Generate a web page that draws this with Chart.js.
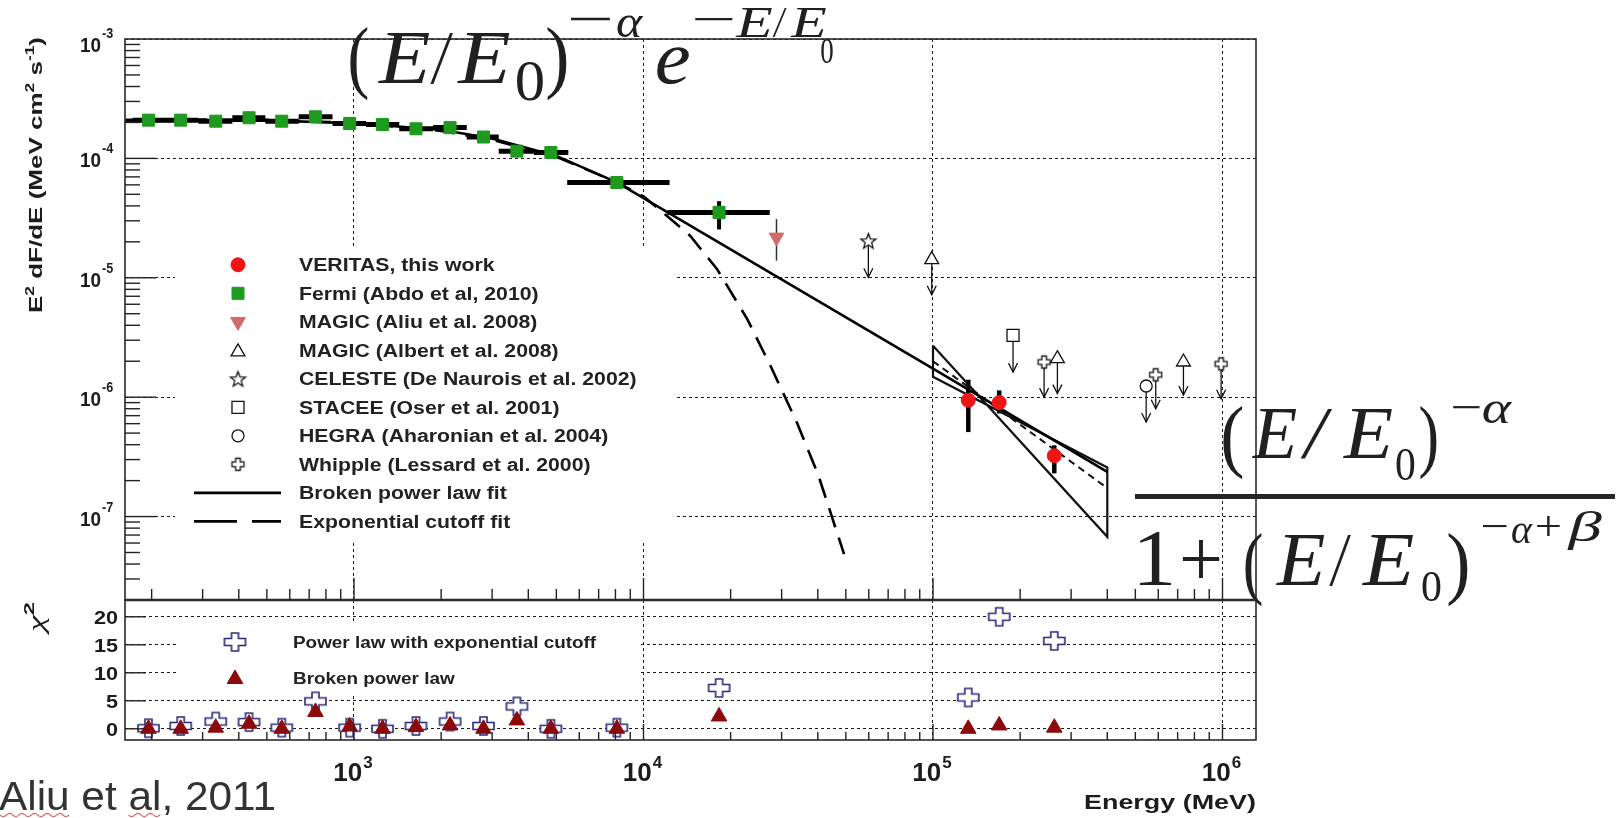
<!DOCTYPE html>
<html lang="en">
<head>
<meta charset="utf-8">
<title>Crab pulsar spectral energy distribution</title>
<script src="https://cdn.jsdelivr.net/npm/chart.js@4.4.1/dist/chart.umd.min.js"></script>
<style>
  html, body { margin: 0; padding: 0; background: #ffffff; }
  #stage { position: relative; width: 1624px; height: 818px; overflow: hidden; background: #ffffff; }
  #stage canvas { position: absolute; left: 0; top: 0; }
</style>
</head>
<body>
<div id="stage">
  <canvas id="sed" width="1624" height="818"></canvas>
  <canvas id="chi" width="1624" height="818"></canvas>
</div>
<script>
// ---------- axis ranges ----------
const E_MIN = 161.8, E_MAX = 1.3054e6;
const FLUX_MIN = 2e-8, FLUX_MAX = 1e-3;
const CHI2_MIN = -2, CHI2_MAX = 23;

// ---------- tick labels ----------
const energyDecades = [3, 4, 5, 6];
const fluxDecades = [-3, -4, -5, -6, -7];
const chi2Ticks = [0, 5, 10, 15, 20];

// ---------- Fermi-LAT points (MeV, MeV cm^-2 s^-1) ----------
const fermiE   = [195, 252, 333, 434, 563, 736, 966, 1255, 1637, 2147, 2800, 3653, 4787, 8090, 18240];
const fermiF   = [2.09e-4, 2.09e-4, 2.05e-4, 2.19e-4, 2.05e-4, 2.23e-4, 1.96e-4, 1.92e-4, 1.77e-4, 1.81e-4, 1.51e-4, 1.15e-4, 1.12e-4, 6.28e-5, 3.52e-5];
const fermiElo = [172, 222, 290, 380, 494, 644, 843, 1101, 1433, 1875, 2452, 3162, 4182, 5450, 12100];
const fermiEhi = [222, 290, 380, 494, 644, 843, 1101, 1433, 1875, 2452, 3162, 4182, 5500, 12300, 27300];
const fermiFlo = [2.01e-4, 2.01e-4, 1.97e-4, 2.10e-4, 1.97e-4, 2.14e-4, 1.88e-4, 1.84e-4, 1.70e-4, 1.74e-4, 1.45e-4, 1.10e-4, 1.075e-4, 6.0e-5, 2.54e-5];
const fermiFhi = [2.17e-4, 2.17e-4, 2.13e-4, 2.28e-4, 2.13e-4, 2.32e-4, 2.04e-4, 2.0e-4, 1.84e-4, 1.88e-4, 1.57e-4, 1.20e-4, 1.165e-4, 6.55e-5, 4.38e-5];

// ---------- VERITAS points ----------
const veritasE   = [1.324e5, 1.693e5, 2.624e5];
const veritasF   = [9.42e-7, 9.01e-7, 3.23e-7];
const veritasFlo = [5.1e-7, 7.3e-7, 2.30e-7];
const veritasFhi = [1.4e-6, 1.14e-6, 3.95e-7];

// ---------- MAGIC (Aliu et al. 2008) ----------
const magicAliuE = [2.88e4];
const magicAliuF = [2.18e-5];
const magicAliuFlo = [1.39e-5];
const magicAliuFhi = [3.1e-5];

// ---------- upper limits: marker flux and arrow tip flux ----------
const magicAlbertE = [9.9e4, 2.69e5, 7.33e5];
const magicAlbertF = [1.42e-5, 2.1e-6, 1.97e-6];
const magicAlbertTip = [7.2e-6, 1.07e-6, 1.04e-6];
const celesteE = [5.98e4];
const celesteF = [2.04e-5];
const celesteTip = [1.01e-5];
const staceeE = [1.89e5];
const staceeF = [3.29e-6];
const staceeTip = [1.62e-6];
const hegraE = [5.45e5];
const hegraF = [1.24e-6];
const hegraTip = [6.2e-7];
const whippleE = [2.42e5, 5.88e5, 9.89e5];
const whippleF = [1.97e-6, 1.54e-6, 1.9e-6];
const whippleTip = [1.0e-6, 8.0e-7, 9.7e-7];

// ---------- fitted curves ----------
const brokenFitE = [162, 300, 500, 1000, 2000, 3000, 5000, 8090, 1e5, 4e5];
const brokenFitF = [2.05e-4, 2.07e-4, 2.08e-4, 1.97e-4, 1.74e-4, 1.47e-4, 1.05e-4, 6.3e-5, 1.73e-6, 2.37e-7];
const cutoffFitE = [162, 300, 500, 1000, 2000, 3000, 5000, 8090, 1.0e4, 1.186e4, 1.449e4, 1.796e4, 2.28e4, 2.74e4, 3.39e4, 4.01e4, 4.93e4];
const cutoffFitF = [2.1e-4, 2.12e-4, 2.1e-4, 1.98e-4, 1.7e-4, 1.43e-4, 1.03e-4, 6.3e-5, 4.8e-5, 3.41e-5, 2.25e-5, 1.18e-5, 4.53e-6, 1.85e-6, 6.1e-7, 2.25e-7, 4.84e-8];
const veritasFitE = [1e5, 4e5];
const veritasFitF = [2.0e-6, 1.73e-7];
const bowtieE = [1e5, 4e5, 4e5, 1e5, 1e5];
const bowtieF = [2.69e-6, 6.76e-8, 2.58e-7, 1.48e-6, 2.69e-6];

// ---------- chi-square residuals ----------
const chi2E = fermiE.concat(veritasE);
const chi2Cutoff = [0.1, 0.5, 1.3, 1.2, 0.2, 4.9, 0.2, 0.0, 0.5, 1.3, 0.5, 4.0, 0.0, 0.2, 7.3, 5.6, 20.0, 15.7];
const chi2Broken = [0.0, 0.0, 0.2, 0.9, 0.0, 3.0, 0.4, 0.0, 0.3, 0.6, 0.0, 1.5, 0.0, 0.0, 2.2, 0.0, 0.6, 0.2];

// ---------- legend labels ----------
const sedLabels = ['VERITAS, this work', 'Fermi (Abdo et al, 2010)', 'MAGIC (Aliu et al. 2008)', 'MAGIC (Albert et al. 2008)',
  'CELESTE (De Naurois et al. 2002)', 'STACEE (Oser et al. 2001)', 'HEGRA (Aharonian et al. 2004)', 'Whipple (Lessard et al. 2000)',
  'Broken power law fit', 'Exponential cutoff fit'];
const chi2Labels = ['Power law with exponential cutoff', 'Broken power law'];

// ---------- styling ----------
const SANS = '"Liberation Sans", Arial, sans-serif';
const SERIF = '"Liberation Serif", "DejaVu Serif", serif';
const INK = '#1c1c1c';
const GREEN = '#1e9a1e', RED = '#f01414', PINK = '#d26a6a', NAVY = '#29297c', DARKRED = '#8c0a0a';

const pts = (xs, ys) => xs.map((v, i) => ({ x: v, y: ys[i] }));

function plusShape(w, h, arm, color, lw) {
  const c = document.createElement('canvas');
  c.width = Math.ceil(w + lw * 2 + 2); c.height = Math.ceil(h + lw * 2 + 2);
  const g = c.getContext('2d');
  const cx = c.width / 2, cy = c.height / 2, hw = w / 2, hh = h / 2, a = arm / 2;
  g.beginPath();
  g.moveTo(cx - a, cy - hh); g.lineTo(cx + a, cy - hh); g.lineTo(cx + a, cy - a); g.lineTo(cx + hw, cy - a);
  g.lineTo(cx + hw, cy + a); g.lineTo(cx + a, cy + a); g.lineTo(cx + a, cy + hh); g.lineTo(cx - a, cy + hh);
  g.lineTo(cx - a, cy + a); g.lineTo(cx - hw, cy + a); g.lineTo(cx - hw, cy - a); g.lineTo(cx - a, cy - a);
  g.closePath();
  g.fillStyle = '#fff'; g.fill(); g.strokeStyle = color; g.lineWidth = lw; g.stroke();
  return c;
}
function starShape(R, r, color, lw) {
  const n = Math.ceil(2 * R + lw * 2 + 2);
  const c = document.createElement('canvas'); c.width = n; c.height = n;
  const g = c.getContext('2d'); const cx = n / 2, cy = n / 2 + 0.8;
  g.beginPath();
  for (let k = 0; k < 10; k++) {
    const a = -Math.PI / 2 + k * Math.PI / 5, rr = k % 2 ? r : R;
    const px = cx + rr * Math.cos(a), py = cy + rr * Math.sin(a);
    if (k) g.lineTo(px, py); else g.moveTo(px, py);
  }
  g.closePath(); g.fillStyle = '#fff'; g.fill(); g.strokeStyle = color; g.lineWidth = lw; g.stroke();
  return c;
}
const plusChi2 = plusShape(21, 18, 7, NAVY, 1.6);
const plusWhipple = plusShape(12, 12, 4.6, '#111', 1.3);
const starCeleste = starShape(8, 3.4, '#111', 1.3);

// ---------- drawing helpers ----------
function seg(ctx, x0, y0, x1, y1) { ctx.beginPath(); ctx.moveTo(x0, y0); ctx.lineTo(x1, y1); ctx.stroke(); }

function text(ctx, s, x, y, font, o = {}) {
  ctx.save();
  ctx.font = font; ctx.fillStyle = o.color || INK; ctx.textBaseline = 'alphabetic'; ctx.textAlign = 'left';
  const w0 = ctx.measureText(s).width;
  const sx = o.width ? o.width / w0 : (o.sx || 1);
  const w = w0 * sx;
  let left = x;
  if (o.align === 'right') left = x - w; else if (o.align === 'center') left = x - w / 2;
  ctx.translate(left, y); ctx.scale(sx, 1); ctx.fillText(s, 0, 0);
  ctx.restore();
  return { left, w, sx };
}

// place a formula glyph by its ink box: left edge, right edge, baseline
function glyph(ctx, s, x0, x1, base, size, italic) {
  ctx.save();
  ctx.font = (italic ? 'italic ' : '') + size + 'px ' + SERIF;
  ctx.fillStyle = '#202020'; ctx.textBaseline = 'alphabetic'; ctx.textAlign = 'left';
  const m = ctx.measureText(s);
  const inkW = m.actualBoundingBoxLeft + m.actualBoundingBoxRight;
  const sx = (x1 - x0) / inkW;
  ctx.translate(x0, base); ctx.scale(sx, 1); ctx.fillText(s, m.actualBoundingBoxLeft, 0);
  ctx.restore();
}

function marker(ctx, style, x, y, r, fill, stroke, lw, rot) {
  if (typeof style === 'object') { ctx.drawImage(style, x - style.width / 2, y - style.height / 2); return; }
  ctx.save(); ctx.beginPath();
  if (style === 'circle') ctx.arc(x, y, r, 0, Math.PI * 2);
  else if (style === 'rect') { const s = r * Math.SQRT1_2; ctx.rect(x - s, y - s, 2 * s, 2 * s); }
  else if (style === 'triangle') {
    let a = (rot || 0) * Math.PI / 180;
    for (let k = 0; k < 3; k++) {
      const px = x + Math.sin(a) * r, py = y - Math.cos(a) * r;
      if (k) ctx.lineTo(px, py); else ctx.moveTo(px, py);
      a += 2 * Math.PI / 3;
    }
    ctx.closePath();
  }
  if (fill) { ctx.fillStyle = fill; ctx.fill(); }
  if (stroke && lw) { ctx.strokeStyle = stroke; ctx.lineWidth = lw; ctx.stroke(); }
  ctx.restore();
}

// "10" with a raised exponent
function pow10(ctx, exp, x, base, o) {
  const b = '10', e = String(exp);
  ctx.save(); ctx.fillStyle = INK; ctx.textBaseline = 'alphabetic'; ctx.textAlign = 'left';
  ctx.font = `bold ${o.size}px ${SANS}`; const wb = ctx.measureText(b).width * o.sx;
  ctx.font = `bold ${o.supSize}px ${SANS}`; const we = ctx.measureText(e).width * o.sx;
  const left = o.align === 'center' ? x - (wb + 1 + we) / 2 : x - wb;
  ctx.font = `bold ${o.size}px ${SANS}`;
  ctx.save(); ctx.translate(left, base); ctx.scale(o.sx, 1); ctx.fillText(b, 0, 0); ctx.restore();
  ctx.font = `bold ${o.supSize}px ${SANS}`;
  ctx.save(); ctx.translate(left + wb + 1, base - o.rise); ctx.scale(o.sx, 1); ctx.fillText(e, 0, 0); ctx.restore();
  ctx.restore();
}

// rich text with superscripts, centred on the current origin
function rich(ctx, pieces, font, supFont, rise, length) {
  let w = 0;
  pieces.forEach(([s, sup]) => { ctx.font = sup ? supFont : font; w += ctx.measureText(s).width; });
  const sx = length / w;
  ctx.save(); ctx.scale(sx, 1); ctx.fillStyle = INK; ctx.textBaseline = 'alphabetic'; ctx.textAlign = 'left';
  let x = -w / 2;
  pieces.forEach(([s, sup]) => { ctx.font = sup ? supFont : font; ctx.fillText(s, x, sup ? -rise : 0); x += ctx.measureText(s).width; });
  ctx.restore();
}

function arrowDown(ctx, px, y0, y1) {
  seg(ctx, px, y0, px, y1);
  ctx.beginPath(); ctx.moveTo(px - 4.5, y1 - 9); ctx.lineTo(px, y1); ctx.lineTo(px + 4.5, y1 - 9); ctx.stroke();
}

function squiggle(ctx, x0, x1, y) {
  ctx.save(); ctx.beginPath();
  for (let x = x0; x <= x1; x += 1) {
    const yy = y + 1.6 * Math.sin((x - x0) / 2.0);
    if (x === x0) ctx.moveTo(x, yy); else ctx.lineTo(x, yy);
  }
  ctx.strokeStyle = '#dd6a6a'; ctx.lineWidth = 1.2; ctx.stroke(); ctx.restore();
}

// values of the 1..9 x 10^k tick marks inside a log range, flagged when they sit on a decade
function logTickValues(min, max) {
  const out = [];
  for (let d = Math.floor(Math.log10(min)); d <= Math.ceil(Math.log10(max)); d++) {
    for (let m = 1; m <= 9; m++) { const v = m * Math.pow(10, d); if (v > min * 1.0001 && v < max * 0.9999) out.push([v, m === 1]); }
  }
  return out;
}

const upperLimitSets = [
  [celesteE, celesteF, celesteTip], [magicAlbertE, magicAlbertF, magicAlbertTip],
  [staceeE, staceeF, staceeTip], [hegraE, hegraF, hegraTip], [whippleE, whippleF, whippleTip]
];

// ---------- upper panel: spectral energy distribution ----------
const sedPanel = {
  id: 'sedPanel',
  beforeDatasetsDraw(chart) {
    const { ctx, scales: { x, y } } = chart;
    ctx.save();
    // legend backdrop hides the grid behind it
    ctx.fillStyle = '#fff'; ctx.fillRect(175, 248, 499, 292);

    ctx.strokeStyle = '#000'; ctx.lineCap = 'butt';
    // Fermi energy bins and flux errors
    fermiE.forEach((e, i) => {
      const py = y.getPixelForValue(fermiF[i]);
      ctx.lineWidth = 5;
      seg(ctx, x.getPixelForValue(fermiElo[i]), py, x.getPixelForValue(fermiEhi[i]), py);
      const px = x.getPixelForValue(e);
      ctx.lineWidth = 4;
      seg(ctx, px, y.getPixelForValue(fermiFlo[i]), px, y.getPixelForValue(fermiFhi[i]));
    });
    // VERITAS flux errors
    ctx.lineWidth = 4.5;
    veritasE.forEach((e, i) => {
      const px = x.getPixelForValue(e);
      seg(ctx, px, y.getPixelForValue(veritasFlo[i]), px, y.getPixelForValue(veritasFhi[i]));
    });
    // MAGIC 2008 error
    ctx.lineWidth = 1.5; ctx.strokeStyle = '#333';
    magicAliuE.forEach((e, i) => {
      const px = x.getPixelForValue(e);
      seg(ctx, px, y.getPixelForValue(magicAliuFlo[i]), px, y.getPixelForValue(magicAliuFhi[i]));
    });
    // upper-limit arrows
    ctx.lineWidth = 1.3; ctx.strokeStyle = '#111';
    upperLimitSets.forEach(([es, fs, tips]) => {
      es.forEach((e, i) => arrowDown(ctx, x.getPixelForValue(e), y.getPixelForValue(fs[i]), y.getPixelForValue(tips[i])));
    });
    ctx.restore();
  },
  afterDatasetsDraw(chart) {
    const { ctx, chartArea: a, scales: { x, y } } = chart;
    ctx.save();
    // frame
    ctx.strokeStyle = '#2a2a2a'; ctx.lineWidth = 1.6;
    ctx.strokeRect(a.left, a.top, a.right - a.left, a.bottom - a.top);
    // left axis ticks
    ctx.lineWidth = 1.4; ctx.strokeStyle = '#222';
    logTickValues(FLUX_MIN, FLUX_MAX).forEach(([v, major]) => {
      const py = y.getPixelForValue(v);
      seg(ctx, a.left, py, a.left + (major ? 31 : 15), py);
    });
    // bottom axis ticks
    logTickValues(E_MIN, E_MAX).forEach(([v, major]) => {
      const px = x.getPixelForValue(v);
      seg(ctx, px, a.bottom, px, a.bottom - (major ? 22 : 11));
    });
    // flux tick labels
    fluxDecades.forEach(k => {
      const py = y.getPixelForValue(Math.pow(10, k));
      pow10(ctx, k, 101, Math.max(py + 9, a.top + 13), { size: 21, supSize: 14, rise: 14, sx: 0.9, align: 'right' });
    });
    // vertical axis title
    ctx.save(); ctx.translate(42, 175); ctx.rotate(-Math.PI / 2);
    rich(ctx, [['E', 0], ['2', 1], [' dF/dE (MeV cm', 0], ['2', 1], [' s', 0], ['-1', 1], [')', 0]],
      `bold 18px ${SANS}`, `bold 12px ${SANS}`, 8, 276);
    ctx.restore();

    // legend entries
    const lx = 238, tx = 299, row0 = 264.8, dy = 28.5;
    const legendMarks = [
      ['circle', 7, RED, RED, 1, 0], ['rect', 8.5, GREEN, GREEN, 1, 0], ['triangle', 8.5, PINK, PINK, 1, 180],
      ['triangle', 8, '#fff', '#111', 1.3, 0], [starCeleste], ['rect', 8.5, '#fff', '#111', 1.3, 0],
      ['circle', 6, '#fff', '#111', 1.3, 0], [plusWhipple]
    ];
    legendMarks.forEach((m, i) => {
      const my = row0 + dy * i;
      if (m.length === 1) marker(ctx, m[0], lx, my);
      else marker(ctx, m[0], lx, my + (m[0] === 'triangle' && !m[5] ? 1.5 : 0), m[1], m[2], m[3], m[4], m[5]);
    });
    ctx.strokeStyle = '#000'; ctx.lineWidth = 2.8;
    seg(ctx, 194, row0 + dy * 8, 281, row0 + dy * 8);
    ctx.setLineDash([43, 15]); seg(ctx, 194, row0 + dy * 9, 281, row0 + dy * 9); ctx.setLineDash([]);
    sedLabels.forEach((s, i) => text(ctx, s, tx, row0 + dy * i + 6.5, `bold 18px ${SANS}`, { sx: 1.18, color: '#222' }));

    // exponential cutoff power law
    glyph(ctx, '(', 350, 368, 83, 80, false);
    glyph(ctx, 'E', 378, 430, 83, 76, true);
    glyph(ctx, '/', 430, 453, 83, 76, true);
    glyph(ctx, 'E', 457, 510, 83, 76, true);
    glyph(ctx, '0', 517, 543, 100, 56, false);
    glyph(ctx, ')', 547, 567, 83, 80, false);
    glyph(ctx, '\u2212', 570, 610, 35, 48, false);
    glyph(ctx, '\u03B1', 617, 643, 37, 46, true);
    glyph(ctx, 'e', 657, 690, 83, 76, true);
    glyph(ctx, '\u2212', 695, 733, 34, 44, false);
    glyph(ctx, 'E', 735, 773, 37, 44, true);
    glyph(ctx, '/', 772, 787, 37, 44, true);
    glyph(ctx, 'E', 790, 827, 37, 44, true);
    glyph(ctx, '0', 821, 833, 63, 36, false);

    // broken power law
    glyph(ctx, '(', 1223, 1243, 462, 80, false);
    glyph(ctx, 'E', 1252, 1297, 458, 74, true);
    glyph(ctx, '/', 1300, 1333, 458, 74, true);
    glyph(ctx, 'E', 1343, 1393, 458, 74, true);
    glyph(ctx, '0', 1396, 1415, 480, 46, false);
    glyph(ctx, ')', 1420, 1437, 462, 80, false);
    glyph(ctx, '\u2212', 1453, 1480, 422, 44, false);
    glyph(ctx, '\u03B1', 1483, 1512, 423, 46, true);
    ctx.fillStyle = '#262626'; ctx.fillRect(1135, 494, 480, 5);
    glyph(ctx, '1', 1140, 1172, 585, 80, false);
    glyph(ctx, '+', 1182, 1220, 586, 80, false);
    glyph(ctx, '(', 1245, 1262, 589, 80, false);
    glyph(ctx, 'E', 1276, 1325, 585, 76, true);
    glyph(ctx, '/', 1329, 1351, 585, 76, true);
    glyph(ctx, 'E', 1362, 1414, 585, 76, true);
    glyph(ctx, '0', 1422, 1441, 601, 44, false);
    glyph(ctx, ')', 1448, 1468, 589, 80, false);
    glyph(ctx, '\u2212', 1483, 1507, 540, 42, false);
    glyph(ctx, '\u03B1', 1512, 1533, 543, 42, true);
    glyph(ctx, '+', 1537, 1560, 540, 42, false);
    glyph(ctx, '\u03B2', 1567, 1602, 541, 42, true);
    ctx.restore();
  }
};

const sedChart = new Chart(document.getElementById('sed'), {
  type: 'scatter',
  data: {
    datasets: [
      { label: 'VERITAS power-law band', data: pts(bowtieE, bowtieF), showLine: true, pointRadius: 0,
        borderColor: '#111', borderWidth: 2.2, fill: false, order: 6 },
      { label: 'VERITAS power law', data: pts(veritasFitE, veritasFitF), showLine: true, pointRadius: 0,
        borderColor: '#111', borderWidth: 2, borderDash: [7, 5], fill: false, order: 6 },
      { label: sedLabels[8], data: pts(brokenFitE, brokenFitF), showLine: true, pointRadius: 0,
        borderColor: '#000', borderWidth: 2.6, fill: false, order: 5 },
      { label: sedLabels[9], data: pts(cutoffFitE, cutoffFitF), showLine: true, pointRadius: 0,
        borderColor: '#000', borderWidth: 2.6, borderDash: [20, 11], fill: false, order: 5 },
      { label: sedLabels[1], data: pts(fermiE, fermiF), pointStyle: 'rect', pointRadius: 8.5,
        pointBackgroundColor: GREEN, pointBorderColor: GREEN, pointBorderWidth: 1, order: 1 },
      { label: sedLabels[0], data: pts(veritasE, veritasF), pointStyle: 'circle', pointRadius: 7,
        pointBackgroundColor: RED, pointBorderColor: RED, pointBorderWidth: 1, order: 1 },
      { label: sedLabels[2], data: pts(magicAliuE, magicAliuF), pointStyle: 'triangle', pointRotation: 180, pointRadius: 8.5,
        pointBackgroundColor: PINK, pointBorderColor: PINK, pointBorderWidth: 1, order: 1 },
      { label: sedLabels[3], data: pts(magicAlbertE, magicAlbertF), pointStyle: 'triangle', pointRadius: 8,
        pointBackgroundColor: '#fff', pointBorderColor: '#111', pointBorderWidth: 1.3, order: 1 },
      { label: sedLabels[4], data: pts(celesteE, celesteF), pointStyle: starCeleste, pointRadius: 6, order: 1 },
      { label: sedLabels[5], data: pts(staceeE, staceeF), pointStyle: 'rect', pointRadius: 8.5,
        pointBackgroundColor: '#fff', pointBorderColor: '#111', pointBorderWidth: 1.3, order: 1 },
      { label: sedLabels[6], data: pts(hegraE, hegraF), pointStyle: 'circle', pointRadius: 6,
        pointBackgroundColor: '#fff', pointBorderColor: '#111', pointBorderWidth: 1.3, order: 1 },
      { label: sedLabels[7], data: pts(whippleE, whippleF), pointStyle: plusWhipple, pointRadius: 6, order: 1 }
    ]
  },
  options: {
    responsive: false, animation: false, devicePixelRatio: 1, events: [],
    layout: { autoPadding: false, padding: { left: 125, top: 39, right: 368, bottom: 218 } },
    plugins: { legend: { display: false }, tooltip: { enabled: false } },
    scales: {
      x: { type: 'logarithmic', min: E_MIN, max: E_MAX,
        afterBuildTicks: s => { s.ticks = energyDecades.map(k => ({ value: Math.pow(10, k) })); },
        ticks: { display: false }, grid: { color: '#1a1a1a', lineWidth: 1, drawTicks: false },
        border: { display: false, dash: [3, 3] } },
      y: { type: 'logarithmic', min: FLUX_MIN, max: FLUX_MAX,
        afterBuildTicks: s => { s.ticks = fluxDecades.map(k => ({ value: Math.pow(10, k) })); },
        ticks: { display: false }, grid: { color: '#1a1a1a', lineWidth: 1, drawTicks: false },
        border: { display: false, dash: [3, 3] } }
    }
  },
  plugins: [sedPanel]
});

// ---------- lower panel: chi-square residuals ----------
const chi2Panel = {
  id: 'chi2Panel',
  beforeDatasetsDraw(chart) {
    const { ctx } = chart;
    ctx.save(); ctx.fillStyle = '#fff'; ctx.fillRect(176, 622, 464, 73); ctx.restore();
  },
  afterDatasetsDraw(chart) {
    const { ctx, chartArea: a, scales: { x, y } } = chart;
    ctx.save();
    ctx.strokeStyle = '#2a2a2a'; ctx.lineWidth = 1.6;
    ctx.strokeRect(a.left, a.top, a.right - a.left, a.bottom - a.top);
    ctx.lineWidth = 2.6; seg(ctx, a.left, a.top, a.right, a.top);
    // ticks
    ctx.lineWidth = 1.4; ctx.strokeStyle = '#222';
    chi2Ticks.forEach(v => { const py = y.getPixelForValue(v); seg(ctx, a.left, py, a.left + 21, py); });
    logTickValues(E_MIN, E_MAX).forEach(([v, major]) => {
      const px = x.getPixelForValue(v);
      seg(ctx, px, a.bottom, px, a.bottom - (major ? 16 : 8));
    });
    // chi2 tick labels
    chi2Ticks.forEach(v => text(ctx, String(v), 118, y.getPixelForValue(v) + 7, `bold 18px ${SANS}`, { sx: 1.2, align: 'right' }));
    // energy tick labels
    energyDecades.forEach(k => pow10(ctx, k, x.getPixelForValue(Math.pow(10, k)) - 1, 781,
      { size: 26, supSize: 17, rise: 13, sx: 1, align: 'center' }));
    text(ctx, 'Energy (MeV)', a.right, 809, `bold 21px ${SANS}`, { width: 172, align: 'right' });
    // chi2 axis title
    ctx.save(); ctx.translate(44, 617); ctx.rotate(-Math.PI / 2);
    rich(ctx, [['\u03C7', 0], ['2', 1]], `italic 24px ${SERIF}`, `bold 15px ${SANS}`, 10, 30);
    ctx.restore();
    // legend
    marker(ctx, plusChi2, 235, 642);
    marker(ctx, 'triangle', 235, 679, 9, DARKRED, DARKRED, 1, 0);
    text(ctx, chi2Labels[0], 293, 648, `bold 16px ${SANS}`, { sx: 1.18, color: '#222' });
    text(ctx, chi2Labels[1], 293, 684, `bold 16px ${SANS}`, { sx: 1.18, color: '#222' });
    // citation
    const cite = text(ctx, 'Aliu et al, 2011', -1, 810, `41px ${SANS}`, { width: 277, color: '#333' });
    ctx.font = `41px ${SANS}`;
    const wAliu = ctx.measureText('Aliu').width * cite.sx;
    const wPre = ctx.measureText('Aliu et ').width * cite.sx;
    const wAl = ctx.measureText('al').width * cite.sx;
    squiggle(ctx, 0, -1 + wAliu, 815);
    squiggle(ctx, -1 + wPre, -1 + wPre + wAl, 815);
    ctx.restore();
  }
};

const chi2Chart = new Chart(document.getElementById('chi'), {
  type: 'scatter',
  data: {
    datasets: [
      { label: chi2Labels[0], data: pts(chi2E, chi2Cutoff), pointStyle: plusChi2, pointRadius: 8, order: 2 },
      { label: chi2Labels[1], data: pts(chi2E, chi2Broken), pointStyle: 'triangle', pointRadius: 9,
        pointBackgroundColor: DARKRED, pointBorderColor: DARKRED, pointBorderWidth: 1, order: 1 }
    ]
  },
  options: {
    responsive: false, animation: false, devicePixelRatio: 1, events: [],
    layout: { autoPadding: false, padding: { left: 125, top: 600, right: 368, bottom: 78 } },
    plugins: { legend: { display: false }, tooltip: { enabled: false } },
    scales: {
      x: { type: 'logarithmic', min: E_MIN, max: E_MAX,
        afterBuildTicks: s => { s.ticks = energyDecades.map(k => ({ value: Math.pow(10, k) })); },
        ticks: { display: false }, grid: { color: '#1a1a1a', lineWidth: 1, drawTicks: false },
        border: { display: false, dash: [3, 3] } },
      y: { type: 'linear', min: CHI2_MIN, max: CHI2_MAX,
        afterBuildTicks: s => { s.ticks = chi2Ticks.map(v => ({ value: v })); },
        ticks: { display: false }, grid: { color: '#1a1a1a', lineWidth: 1, drawTicks: false },
        border: { display: false, dash: [3, 3] } }
    }
  },
  plugins: [chi2Panel]
});
</script>
</body>
</html>
